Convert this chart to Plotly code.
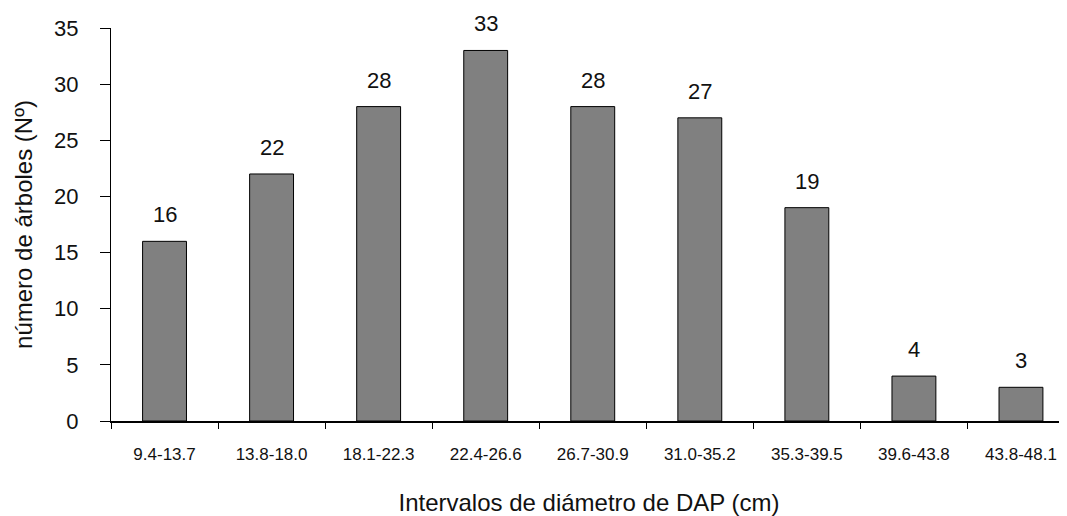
import plotly.graph_objects as go

categories = ["9.4-13.7", "13.8-18.0", "18.1-22.3", "22.4-26.6", "26.7-30.9",
              "31.0-35.2", "35.3-39.5", "39.6-43.8", "43.8-48.1"]
counts = [16, 22, 28, 33, 28, 27, 19, 4, 3]
y_ticks = [0, 5, 10, 15, 20, 25, 30, 35]

FONT = "Liberation Sans, Arial, sans-serif"

fig = go.Figure()
fig.add_trace(go.Bar(
    x=categories, y=counts, width=0.41,
    marker=dict(color="#808080", line=dict(color="#000000", width=1)),
    showlegend=False, hoverinfo="skip",
))

for c, v in zip(categories, counts):
    fig.add_annotation(x=c, y=v, text=str(v), showarrow=False,
                       yanchor="bottom", yshift=12,
                       font=dict(family=FONT, size=22, color="#111111"))

# page body has an 8px default margin; figure size/margins compensate for it
fig.update_layout(
    width=1059, height=508,
    margin=dict(l=103, r=0, t=20, b=95, autoexpand=False),
    paper_bgcolor="white", plot_bgcolor="white",
    font=dict(family=FONT, color="#111111"),
)
fig.update_xaxes(
    type="category", range=[-0.5, 8.43], automargin=False,
    showline=True, linecolor="#000000", linewidth=1.5,
    ticks="outside", tickson="boundaries", ticklen=6, tickcolor="#000000",
    tickfont=dict(size=17), ticklabelstandoff=17,
    showgrid=False, zeroline=False,
    title=dict(text="Intervalos de diámetro de DAP (cm)", font=dict(size=24), standoff=38),
)
fig.update_yaxes(
    range=[0, 35], tickvals=y_ticks, automargin=False,
    showline=True, linecolor="#000000", linewidth=1,
    ticks="outside", ticklen=10, tickcolor="#000000",
    tickfont=dict(size=22), ticklabelstandoff=17,
    showgrid=False, zeroline=False,
    title=dict(text="número de árboles (Nº)", font=dict(size=24), standoff=14),
)

fig.write_html("out.html")
